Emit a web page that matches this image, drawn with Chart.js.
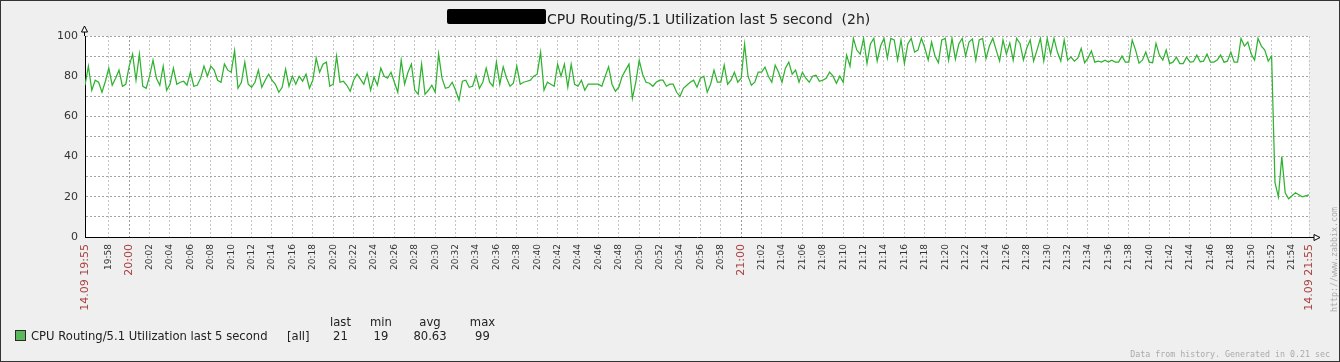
<!DOCTYPE html>
<html>
<head>
<meta charset="utf-8">
<script src="https://cdn.jsdelivr.net/npm/chart.js@4.4.0/dist/chart.umd.min.js"></script>
<style>
  html, body { margin: 0; padding: 0; background: #efefef; }
  #wrap { width: 1340px; height: 362px; }
</style>
</head>
<body>
<div id="wrap"><canvas id="graph" width="1340" height="362"></canvas></div>
<script>
const ITEM_NAME = 'CPU Routing/5.1 Utilization last 5 second';
const TITLE = ITEM_NAME + '  (2h)';
const DATE = '14.09';
const PERIOD_START = '19:55:40';
const PERIOD_END = '21:55:40';
const SAMPLE_STEP_SEC = 20;

const TICK_LABELS = [
  '19:58', '20:00', '20:02', '20:04', '20:06', '20:08', '20:10', '20:12', '20:14', '20:16',
  '20:18', '20:20', '20:22', '20:24', '20:26', '20:28', '20:30', '20:32', '20:34', '20:36',
  '20:38', '20:40', '20:42', '20:44', '20:46', '20:48', '20:50', '20:52', '20:54', '20:56',
  '20:58', '21:00', '21:02', '21:04', '21:06', '21:08', '21:10', '21:12', '21:14', '21:16',
  '21:18', '21:20', '21:22', '21:24', '21:26', '21:28', '21:30', '21:32', '21:34', '21:36',
  '21:38', '21:40', '21:42', '21:44', '21:46', '21:48', '21:50', '21:52', '21:54'
];
const HOUR_LABELS = ['20:00', '21:00'];
const Y_LABELS = [0, 20, 40, 60, 80, 100];

// one sample every 20 s from 19:55:40
const cpuValues = [
  75.5, 85, 73, 78, 77, 72, 77.5, 84, 75.5, 79,
  83, 75, 76, 85, 91, 78, 91, 75, 74, 80,
  88, 79, 75.5, 85, 73, 76, 84, 76, 77, 77.5,
  75.5, 82, 75, 75.5, 79, 85, 80, 85, 83, 78,
  77, 86, 83, 82, 92.7, 74, 77, 87, 76, 74.5,
  77, 83, 74.5, 78, 81, 78, 76, 72, 74.5, 83.5,
  75, 80, 76, 80, 77.5, 81, 74, 78, 89, 82,
  86, 87, 75, 76, 90, 77, 77.5, 75.5, 72.5, 78,
  81, 78.5, 76, 81.5, 73, 79.5, 75.5, 84, 80, 79,
  82, 77, 72, 88, 76, 82, 86, 73, 71, 86,
  71, 73, 75.5, 72, 91, 79, 74, 74.5,
  77, 73, 68, 77.5, 78, 74.5, 75, 80.5, 74, 77,
  84, 77, 75, 87, 76, 84.7, 79, 75, 76.5, 85,
  76, 77, 77.5, 78, 80, 81, 92, 73, 77, 76,
  75, 86, 80, 86, 74.5, 86, 76, 75, 78, 73,
  76, 76, 76, 76, 75, 80, 84.7, 76, 72.5, 74.5,
  80, 83, 86, 69, 77, 88, 81, 77, 76.5, 75,
  77, 78, 78, 75, 76, 76, 72, 70, 74, 75.5,
  77, 78, 74.5, 79, 80, 72, 76, 83, 77, 77,
  85.5, 76, 78, 82, 77, 79, 96, 80, 75.5, 77,
  82, 82, 84.5, 80, 77, 85.5, 82, 77, 84, 87,
  81, 83, 77, 82, 79, 77, 80, 80.5, 77.5, 78,
  79, 82, 80, 76.5, 80, 77, 90.5, 85,
  98.8, 93, 91, 98.8, 86.3, 96, 98.8, 87.5, 95, 98.8,
  89, 98.8, 98, 88, 98, 86.3, 96, 98.8, 92, 93,
  98.8, 94, 88, 97, 90, 86.7, 98, 98.8, 88, 98.8,
  88.5, 96, 98.8, 90, 97, 98.5, 88, 98, 98.8, 88.8,
  95, 98.8, 93, 87.5, 98, 91, 96.5, 88, 98.8, 96.3,
  88, 94, 98, 87.5, 93, 98.8, 87.5, 98.8, 91, 98.8,
  92, 87.5, 98, 88,
  89.5, 87.5, 89, 93.8, 86.7, 89, 92.5, 87, 87.5, 87,
  88, 87, 88, 87, 87, 90, 87, 87, 98, 93,
  86.5, 88, 92, 87, 86.7, 96.3, 90.5, 88, 93, 86.3,
  87, 89.5, 86.3, 86.3, 89.5, 87, 87.2, 90.5, 87.2, 87.5,
  91, 87, 87, 88, 90.5, 87, 87.5, 92, 87, 87,
  98.8, 95, 97, 91, 88, 98.8, 95, 93, 87.5, 90,
  27, 20, 40, 22, 19, 20.5, 22, 21, 20, 20.5, 21
];

const LEGEND_COLS = ['last', 'min', 'avg', 'max'];
const LEGEND_VALUES = ['21', '19', '80.63', '99'];

const RED = '#a84040';
const LINE = '#2fb32f';
const sans = 'DejaVu Sans';
const mono = 'DejaVu Sans Mono';

const toMin = s => { const p = s.split(':').map(Number); return p[0] * 60 + p[1] + (p[2] || 0) / 60; };
const tStart = toMin(PERIOD_START), tEnd = toMin(PERIOD_END);
const xTicks = [tStart, ...TICK_LABELS.map(toMin), tEnd];
const xLabels = [DATE + ' ' + PERIOD_START.slice(0, 5), ...TICK_LABELS, DATE + ' ' + PERIOD_END.slice(0, 5)];
const isRed = i => i === 0 || i === xLabels.length - 1 || HOUR_LABELS.includes(xLabels[i]);
const points = cpuValues.map((v, i) => ({ x: tStart + i * SAMPLE_STEP_SEC / 60, y: v }));

const frame = {
  id: 'frame',
  beforeDraw(chart) {
    const { ctx, chartArea: a } = chart;
    ctx.save();
    ctx.fillStyle = '#efefef';
    ctx.fillRect(0, 0, chart.width, chart.height);
    ctx.fillStyle = '#fff';
    ctx.fillRect(a.left, a.top, a.right - a.left, a.bottom - a.top);
    ctx.restore();
  },
  afterDraw(chart) {
    const { ctx, chartArea: a } = chart;
    ctx.save();
    // axis extensions + arrows
    ctx.strokeStyle = '#000';
    ctx.lineWidth = 1;
    ctx.beginPath();
    ctx.moveTo(a.left - 0.5, a.top); ctx.lineTo(a.left - 0.5, a.top - 4);
    ctx.moveTo(a.right, a.bottom + 0.5); ctx.lineTo(a.right + 5, a.bottom + 0.5);
    ctx.stroke();
    ctx.fillStyle = '#fff';
    ctx.beginPath();
    ctx.moveTo(a.left - 0.5, a.top - 10); ctx.lineTo(a.left - 3.5, a.top - 4); ctx.lineTo(a.left + 2.5, a.top - 4); ctx.closePath();
    ctx.fill(); ctx.stroke();
    ctx.beginPath();
    ctx.moveTo(a.right + 11, a.bottom + 0.5); ctx.lineTo(a.right + 5, a.bottom - 2.5); ctx.lineTo(a.right + 5, a.bottom + 3.5); ctx.closePath();
    ctx.fill(); ctx.stroke();

    // title with redacted host box
    ctx.fillStyle = '#000';
    ctx.beginPath();
    ctx.roundRect(447, 9, 99, 15, 2);
    ctx.fill();
    ctx.fillStyle = '#222';
    ctx.font = '14px "' + sans + '"';
    ctx.textBaseline = 'alphabetic';
    ctx.textAlign = 'left';
    ctx.fillText(TITLE, 547, 24);

    // legend
    ctx.fillStyle = '#5cb85c';
    ctx.fillRect(15.5, 330.5, 10, 10);
    ctx.strokeStyle = '#2a2a2a';
    ctx.strokeRect(15.5, 330.5, 10, 10);
    ctx.fillStyle = '#222';
    ctx.font = '11.6px "' + sans + '"';
    ctx.fillText(ITEM_NAME, 31, 340);
    ctx.fillText('[all]', 287, 340);
    ctx.textAlign = 'center';
    const colX = [340.5, 381, 430, 482.5];
    LEGEND_COLS.forEach((c, i) => {
      ctx.fillText(c, colX[i], 326);
      ctx.fillText(LEGEND_VALUES[i], colX[i], 340);
    });

    // footer texts
    ctx.fillStyle = '#aaa';
    ctx.font = '8.3px "' + mono + '"';
    ctx.textAlign = 'right';
    ctx.fillText('Data from history. Generated in 0.21 sec', 1330, 357);
    ctx.translate(1337, 312);
    ctx.rotate(-Math.PI / 2);
    ctx.textAlign = 'left';
    ctx.fillText('http://www.zabbix.com', 0, 0);
    ctx.restore();

    // outer frame
    ctx.save();
    ctx.strokeStyle = '#333';
    ctx.strokeRect(0.5, 0.5, chart.width - 1, chart.height - 1);
    ctx.restore();
  }
};

new Chart(document.getElementById('graph'), {
  type: 'line',
  data: {
    datasets: [{
      data: points,
      borderColor: LINE,
      borderWidth: 1.25,
      pointRadius: 0,
      tension: 0,
      fill: false
    }]
  },
  options: {
    responsive: false,
    animation: false,
    events: [],
    layout: { padding: { left: 0, top: 36, right: 31, bottom: 0 } },
    plugins: { legend: { display: false }, tooltip: { enabled: false } },
    scales: {
      x: {
        type: 'linear',
        min: tStart,
        max: tEnd,
        afterBuildTicks: s => { s.ticks = xTicks.map(v => ({ value: v })); },
        afterFit: s => { s.height = 125; },
        grid: {
          drawTicks: false,
          color: c => c.index === 0 ? 'rgba(0,0,0,0)' : HOUR_LABELS.includes(xLabels[c.index]) ? '#999' : '#c6c6c6'
        },
        border: { color: '#000', width: 1, dash: [2, 2] },
        ticks: {
          autoSkip: false,
          minRotation: 90,
          maxRotation: 90,
          padding: 7,
          color: c => isRed(c.index) ? RED : '#333',
          font: c => ({ family: sans, size: isRed(c.index) ? 11 : 9 }),
          callback: (v, i) => xLabels[i]
        }
      },
      y: {
        min: 0,
        max: 100,
        afterFit: s => { s.width = 85; },
        grid: { drawTicks: false, color: '#a4a4a4' },
        border: { color: '#000', width: 1, dash: [2, 2] },
        ticks: {
          stepSize: 10,
          padding: 7,
          color: '#333',
          font: { family: sans, size: 11 },
          callback: v => Y_LABELS.includes(v) ? String(v) : ''
        }
      }
    }
  },
  plugins: [frame]
});
</script>
</body>
</html>
